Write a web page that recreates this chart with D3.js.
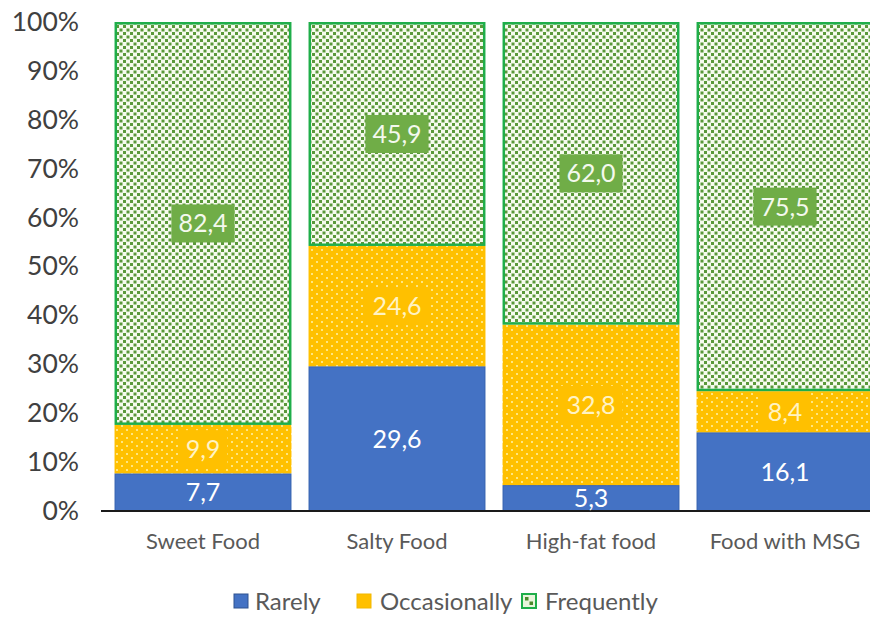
<!DOCTYPE html>
<html>
<head>
<meta charset="utf-8">
<script src="https://cdn.jsdelivr.net/npm/d3@7"></script>
<style>
  html, body { margin: 0; padding: 0; background: #ffffff; }
  svg { display: block; font-family: Lato, "Open Sans", sans-serif; }
</style>
</head>
<body>
<svg id="chart" width="870" height="617"></svg>
<script>
// Food categories and share of respondents (%) per consumption frequency
const categories = ["Sweet Food", "Salty Food", "High-fat food", "Food with MSG"];
const rarely       = [7.7, 29.6, 5.3, 16.1];
const occasionally = [9.9, 24.6, 32.8, 8.4];
const frequently   = [82.4, 45.9, 62.0, 75.5];
const seriesNames  = ["Rarely", "Occasionally", "Frequently"];
const yTicks       = [0, 10, 20, 30, 40, 50, 60, 70, 80, 90, 100];

const rows = categories.map((c, i) => ({
  category: c,
  Rarely: rarely[i],
  Occasionally: occasionally[i],
  Frequently: frequently[i]
}));

const svg = d3.select("#chart");

const x = d3.scaleBand()
  .domain(categories)
  .range([106, 882])
  .paddingInner(0.088)
  .paddingOuter(0.044);

const y = d3.scaleLinear().domain([0, 100]).range([511, 22]);

// Fill patterns
const defs = svg.append("defs");

const pg = defs.append("pattern")
  .attr("id", "freqPattern")
  .attr("patternUnits", "userSpaceOnUse")
  .attr("width", 7).attr("height", 7);
pg.append("rect").attr("width", 7).attr("height", 7).attr("fill", "#f6fbee");
pg.append("rect").attr("x", 0.5).attr("y", 0.5).attr("width", 3).attr("height", 3).attr("fill", "#5a983a");
pg.append("rect").attr("x", 4).attr("y", 4).attr("width", 3).attr("height", 3).attr("fill", "#5a983a");

const po = defs.append("pattern")
  .attr("id", "occPattern")
  .attr("patternUnits", "userSpaceOnUse")
  .attr("width", 10).attr("height", 8);
po.append("rect").attr("width", 10).attr("height", 8).attr("fill", "#ffc000");
po.append("rect").attr("x", 1).attr("y", 1).attr("width", 2).attr("height", 2).attr("fill", "#ffe680");
po.append("rect").attr("x", 6).attr("y", 5).attr("width", 2).attr("height", 2).attr("fill", "#ffe680");

const style = {
  Rarely:       { fill: "#4472c4", stroke: "#3461b0", sw: 1,   box: null,      text: "#ffffff" },
  Occasionally: { fill: "url(#occPattern)", stroke: "none", sw: 0, box: "#ffc000", text: "#fff3c4" },
  Frequently:   { fill: "url(#freqPattern)", stroke: "#1fae4a", sw: 2.5, box: "#70ad47", text: "#f4f9ee" }
};

const stack = d3.stack().keys(seriesNames);
const layers = stack(rows);

// Y axis labels
const yAxis = svg.append("g").attr("transform", "translate(79,0)")
  .call(d3.axisLeft(y).tickValues(yTicks).tickFormat(d => d + "%").tickSize(0).tickPadding(0));
yAxis.select(".domain").remove();
yAxis.selectAll("text")
  .attr("fill", "#404040")
  .style("font-size", "26.5px")
  .style("font-family", "Lato, 'Open Sans', sans-serif");

// Bars
const gBars = svg.append("g");
layers.forEach(layer => {
  const s = style[layer.key];
  gBars.append("g").selectAll("rect")
    .data(layer)
    .join("rect")
    .attr("x", d => x(d.data.category) + s.sw / 2)
    .attr("y", d => y(Math.min(d[1], 100)) + s.sw / 2)
    .attr("width", x.bandwidth() - s.sw)
    .attr("height", d => Math.max(0, y(d[0]) - y(Math.min(d[1], 100)) - s.sw))
    .attr("fill", s.fill)
    .attr("stroke", s.stroke)
    .attr("stroke-width", s.sw);
});

// Baseline axis
const xAxis = svg.append("g").attr("transform", "translate(0,511)")
  .call(d3.axisBottom(x).tickSize(0).tickPadding(22));
xAxis.select(".domain").attr("d", "M101,0H870").attr("stroke", "#1a1a1a").attr("stroke-width", 2);
xAxis.selectAll("text")
  .attr("fill", "#595959")
  .style("font-size", "22px")
  .style("font-family", "Lato, 'Open Sans', sans-serif");

// Value labels
const fmt = v => v.toFixed(1).replace(".", ",");
const gLabels = svg.append("g");
layers.forEach(layer => {
  const s = style[layer.key];
  layer.forEach(d => {
    const cx = x(d.data.category) + x.bandwidth() / 2;
    const cy = (y(d[0]) + y(Math.min(d[1], 100))) / 2;
    const g = gLabels.append("g").attr("transform", `translate(${cx},${cy})`);
    const t = g.append("text")
      .attr("text-anchor", "middle")
      .attr("dy", "0.36em")
      .attr("fill", s.text)
      .style("font-size", "25px")
      .text(fmt(d.data[layer.key]));
    if (s.box) {
      const bb = t.node().getBBox();
      g.insert("rect", "text")
        .attr("x", bb.x - 7).attr("y", -19)
        .attr("width", bb.width + 14).attr("height", 38)
        .attr("fill", s.box);
    }
  });
});

// Legend
const legendPos = [233, 356, 521];
const legend = svg.append("g").attr("transform", "translate(0,601)");
seriesNames.forEach((name, i) => {
  const g = legend.append("g").attr("transform", `translate(${legendPos[i]},0)`);
  g.append("rect")
    .attr("x", 1).attr("y", -7).attr("width", 14).attr("height", 14)
    .attr("fill", name === "Frequently" ? "#e9f5dc" : (name === "Occasionally" ? "#ffc000" : "#4472c4"))
    .attr("stroke", name === "Frequently" ? "#1fae4a" : (name === "Rarely" ? "#2f528f" : "#f2b800"))
    .attr("stroke-width", name === "Frequently" ? 2 : 1);
  if (name === "Frequently") {
    g.append("rect").attr("x", 4).attr("y", -4).attr("width", 3.5).attr("height", 3.5).attr("fill", "#4c8a2c");
    g.append("rect").attr("x", 8.5).attr("y", 0.5).attr("width", 3.5).attr("height", 3.5).attr("fill", "#4c8a2c");
  }
  g.append("text")
    .attr("x", name === "Rarely" ? 22 : 24).attr("dy", "0.36em")
    .attr("fill", "#595959")
    .style("font-size", "24px")
    .text(name);
});
</script>
</body>
</html>
